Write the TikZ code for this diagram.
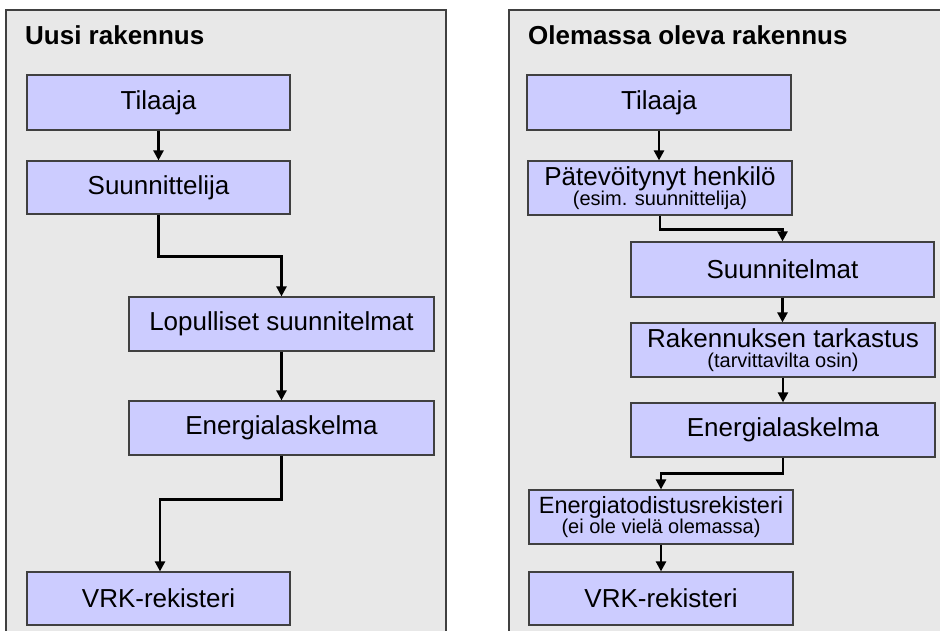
\documentclass[tikz,border=0pt]{standalone}
\usepackage{fontspec}
\setmainfont{Liberation Sans}
\usetikzlibrary{arrows.meta}
\definecolor{panelfill}{HTML}{E8E8E8}
\definecolor{boxfill}{HTML}{CCCCFF}
\definecolor{boxline}{HTML}{404040}
\tikzset{
  stepbox/.style={draw=boxline, line width=1.2pt, fill=boxfill, inner sep=0pt,
    align=center, font=\fontsize{26}{20}\selectfont},
  wide/.style={minimum width=305pt},
  narrow/.style={minimum width=264pt},
  flow/.style={line width=2.4pt, -{Triangle[length=10pt,width=10pt]}},
  paneltitle/.style={anchor=base west, inner sep=0pt, font=\bfseries\fontsize{26}{26}\selectfont},
  subtxt/.style={}
}
\newcommand{\subline}[1]{{\fontsize{20}{20}\selectfont #1}}
\begin{document}
\begin{tikzpicture}[x=1pt,y=-1pt]
\useasboundingbox (0,0) rectangle (940,631);
% panels
\fill[panelfill] (6,10) rectangle (446,640);
\draw[boxline, line width=1.5pt] (6,640) -- (6,10) -- (446,10) -- (446,640);
\fill[panelfill] (509,10) rectangle (950,640);
\draw[boxline, line width=1.5pt] (509,640) -- (509,10) -- (950,10);
\node[paneltitle] (TL) at (25,45) {Uusi rakennus};
\node[paneltitle] (TR) at (528,45) {Olemassa oleva rakennus};
% left column
\node[stepbox, narrow, minimum width=263pt, minimum height=55pt] (L1) at (158.5,102.5) {Tilaaja};
\node[stepbox, narrow, minimum width=263pt, minimum height=53pt] (L2) at (158.5,187.5) {Suunnittelija};
\node[stepbox, wide, minimum height=54pt] (L3) at (281.5,324) {Lopulliset suunnitelmat};
\node[stepbox, wide, minimum height=54pt] (L4) at (281.5,428) {Energialaskelma};
\node[stepbox, narrow, minimum width=263pt, minimum height=53pt] (L5) at (158.5,598.5) {VRK-rekisteri};
\draw[flow] (L1.south) -- (L2.north);
\draw[flow] (L2.south) -- ++(0,42) -| (L3.north);
\draw[flow] (L3.south) -- (L4.north);
\draw[flow] (L4.south) -- ++(0,44) -| ([xshift=1.5pt]L5.north);
% right column
\node[stepbox, narrow, minimum height=55pt] (R1) at (659,102.5) {Tilaaja};
\node[stepbox, narrow, minimum height=54pt] (R2) at (660,188) {Pätevöitynyt henkilö\\\subline{(esim. suunnittelija)}};
\node[stepbox, minimum width=303pt, minimum height=55pt] (R3) at (782.5,269.5) {Suunnitelmat};
\node[stepbox, minimum width=304pt, minimum height=54pt] (R4) at (783,350) {Rakennuksen tarkastus\\\subline{(tarvittavilta osin)}};
\node[stepbox, minimum width=304pt, minimum height=54pt] (R5) at (783,430) {Energialaskelma};
\node[stepbox, narrow, minimum height=54pt, font=\fontsize{23.5}{19}\selectfont] (R6) at (661,517) {Energiatodistusrekisteri\\\subline{(ei ole vielä olemassa)}};
\node[stepbox, narrow, minimum height=53pt] (R7) at (661,598.5) {VRK-rekisteri};
\draw[flow] (R1.south) -- (R2.north -| R1.south);
\draw[flow] (R2.south) -- ++(0,14) -| (R3.north);
\draw[flow] (R3.south) -- (R4.north -| R3.south);
\draw[flow] (R4.south) -- (R5.north);
\draw[flow] (R5.south) -- ++(0,16) -| (R6.north);
\draw[flow] (R6.south) -- (R7.north);
\end{tikzpicture}
\end{document}
